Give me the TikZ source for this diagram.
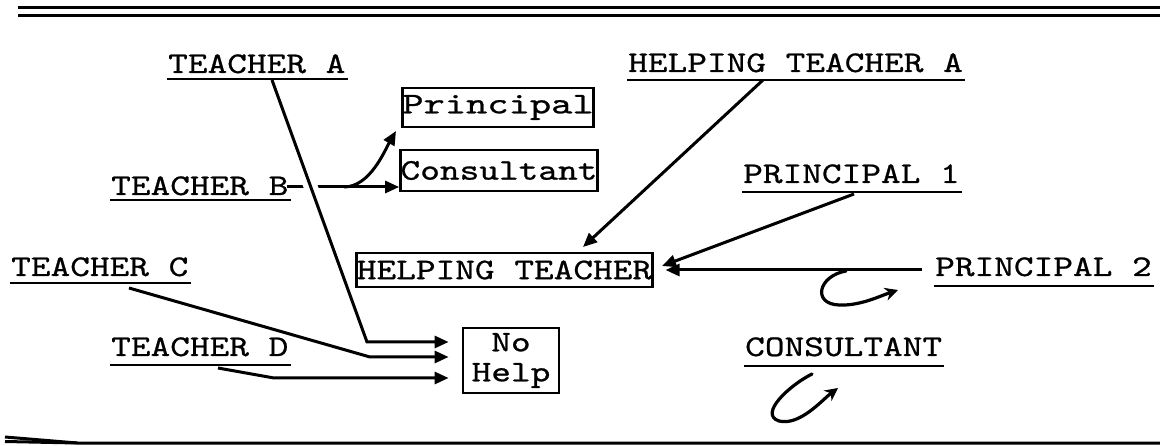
\documentclass[tikz,border=0pt]{standalone}
\usepackage{fontspec}
\usepackage{graphicx}
\setmonofont{lmmono10-regular.otf}[FakeStretch=1.25,FakeBold=0.8]
\usetikzlibrary{arrows.meta}
\newcommand\tw{\fontsize{30}{30}\selectfont\ttfamily}
\begin{document}
\begin{tikzpicture}[x=1pt,y=-1pt,
 lbl/.style={inner sep=0pt,anchor=base west,font=\tw},
 bx/.style={draw,line width=2.8pt,inner sep=0pt,font=\tw,align=center},
 ul/.style={line width=2.6pt},
 rule/.style={line width=3pt},
 conn/.style={line width=3pt,-{Triangle[length=14pt,width=12pt]}},
 curl/.style={line width=3.2pt,line cap=round,-{Stealth[length=13pt,width=13pt]}}]
\useasboundingbox (0,0) rectangle (1160,446);
\fill[white] (0,0) rectangle (1160,446);
% rules
\draw[rule] (18,8) -- (1160,8);
\draw[rule] (18,15.5) -- (1160,15.5);
\draw[rule] (5,437) -- (77,443);
\draw[rule] (5,441.5) -- (77,443) -- (1160,443);
% labels
\node[lbl] (ta) at (168,73) {TEACHER A};
\node[lbl] (hta) at (628,72) {HELPING TEACHER A};
\node[lbl] (tb) at (111,195) {TEACHER B};
\node[lbl] (p1) at (743,183) {PRINCIPAL 1};
\node[lbl] (tc) at (11,276) {TEACHER C};
\node[lbl] (p2) at (935,276) {PRINCIPAL 2};
\node[lbl] (td) at (111,356) {TEACHER D};
\node[lbl] (cons) at (745,356) {CONSULTANT};
% boxes
\node[bx,minimum width=190pt,minimum height=39pt] (pr) at (498,107.5) {\scalebox{1.08}[1]{Principal}};
\node[bx,minimum width=192pt,minimum height=41pt] (cs) at (499,170.5) {Consultant};
\node[bx,minimum width=291pt,minimum height=34pt] (ht) at (504.5,270) {HELPING TEACHER};
\node[bx,minimum width=96pt,minimum height=65pt] (nh) at (511,360.5) {No\\Help};
% coordinates
\coordinate (taS) at (272,80);
\coordinate (taC) at (367,342);
\coordinate (tbS) at (287,187);
\coordinate (tbK) at (344,187);
\coordinate (prT) at (396,131);
\coordinate (tcS) at (129,288);
\coordinate (tcC) at (370,357);
\coordinate (tdS) at (218,368);
\coordinate (tdC) at (274,378);
\coordinate (htaS) at (763,80);
\coordinate (htaT) at (583,247);
\coordinate (p1S) at (854,194);
\coordinate (p1T) at (662,266);
\coordinate (p2S) at (922,270);
\coordinate (c1S) at (846,271);
\coordinate (c1T) at (898,290);
\coordinate (c2S) at (812,374);
\coordinate (c2T) at (838,388);
% connectors
\draw[conn] (tbS) -- (cs.west |- tbS);
\draw[conn] (tbK) .. controls (370,187) and (385,150) .. (prT);
\draw[conn,shorten >=13pt,preaction={draw=white,line width=14pt,-}] (taS) -- (taC) -- (nh.west |- taC);
\draw[conn,shorten >=13pt] (tcS) -- (tcC) -- (nh.west |- tcC);
\draw[conn,shorten >=13pt] (tdS) -- (tdC) -- (nh.west |- tdC);
\draw[conn] (htaS) -- (htaT);
\draw[conn] (p1S) -- (p1T);
\draw[conn,shorten >=12pt] (p2S) -- (ht.east |- p2S);
\draw[curl] (c1S) .. controls (818,276) and (812,304) .. (839,305) .. controls (860,306) and (880,296) .. (c1T);
\draw[curl] (c2S) .. controls (790,385) and (758,414) .. (779,421) .. controls (800,426) and (822,400) .. (c2T);
% underlines
\foreach \n/\d in {ta/6,hta/8,tb/5,p1/9,tc/7,p2/10,td/9,cons/10}
  \draw[ul] ([shift={(-1,\d)}]\n.base west) -- ([shift={(2,\d)}]\n.base east);
\end{tikzpicture}
\end{document}
